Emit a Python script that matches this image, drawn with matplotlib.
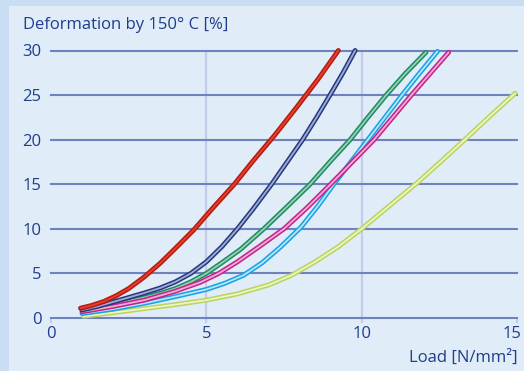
import matplotlib
matplotlib.use("Agg")
import matplotlib.pyplot as plt
from matplotlib.patches import Rectangle
from matplotlib.transforms import ScaledTranslation

# ---- data ----
red_x = [0.95, 1.3, 1.7, 2.1, 2.5, 3.0, 3.5, 4.0, 4.6, 5.2, 5.9, 6.5, 7.2, 7.9, 8.6, 9.25]
red_y = [1.1, 1.4, 1.85, 2.5, 3.3, 4.6, 6.1, 7.8, 9.9, 12.3, 15.0, 17.6, 20.5, 23.6, 26.8, 30]

navy_x = [1, 1.5, 2, 2.5, 3, 3.5, 4, 4.5, 5, 5.5, 6.0, 6.5, 7.1, 7.6, 8.1, 8.55, 8.98, 9.4, 9.79]
navy_y = [0.9, 1.3, 1.8, 2.3, 2.8, 3.35, 4.05, 5.0, 6.3, 8.0, 10, 12.2, 15, 17.5, 20, 22.5, 25, 27.5, 30]

green_x = [1, 2, 3, 3.5, 4, 4.5, 5.0, 5.5, 6.1, 6.85, 7.6, 8.34, 9.0, 9.63, 10.2, 10.79, 11.4, 12.07]
green_y = [0.8, 1.5, 2.3, 2.75, 3.3, 4.05, 5.0, 6.2, 7.7, 10, 12.5, 15, 17.6, 20, 22.5, 25, 27.4, 29.8]

pink_x = [1, 2, 3, 4, 4.8, 5.4, 6.0, 6.7, 7.5, 8.25, 9.0, 9.7, 10.4, 11.0, 11.6, 12.2, 12.8]
pink_y = [0.7, 1.3, 2.0, 3.0, 4.0, 5.0, 6.3, 8.0, 10, 12.4, 15, 17.5, 20, 22.5, 25, 27.4, 29.8]

cyan_x = [1, 2, 3, 4, 5, 5.6, 6.2, 6.8, 7.4, 8.05, 8.6, 9.1, 9.65, 10.2, 10.75, 11.3, 11.85, 12.44]
cyan_y = [0.5, 1.0, 1.65, 2.4, 3.2, 3.9, 4.8, 6.2, 8.0, 10.2, 12.6, 15, 17.5, 20, 22.5, 25, 27.4, 29.9]

yellow_x = [1.05, 2, 3, 4, 5, 6, 7, 7.75, 8.5, 9.25, 10, 10.9, 11.8, 12.6, 13.35, 14.15, 14.94]
yellow_y = [0.2, 0.6, 1.05, 1.5, 2.0, 2.7, 3.7, 4.8, 6.3, 8.0, 10, 12.6, 15.2, 17.7, 20.1, 22.7, 25.2]

x_ticks = [0, 5, 10, 15]
y_ticks = [0, 5, 10, 15, 20, 25, 30]

series = [
    (yellow_x, yellow_y, '#b9d45e', '#eef5c2'),
    (cyan_x, cyan_y, '#16a2e2', '#b4e6f9'),
    (green_x, green_y, '#1f8a62', '#93d2b2'),
    (pink_x, pink_y, '#c2228a', '#f3aad6'),
    (navy_x, navy_y, '#26397a', '#9eaada'),
    (red_x, red_y, '#b51a10', '#e4402c'),
]

TXT = '#1f3d8c'
plt.rcParams['font.family'] = ['Open Sans', 'DejaVu Sans']

fig = plt.figure(figsize=(5.24, 3.71), dpi=100)
fig.patch.set_facecolor('#c9def3')

bg = fig.add_axes([0, 0, 1, 1], zorder=-5)
bg.set_xlim(0, 1)
bg.set_ylim(0, 1)
bg.axis('off')
bg.add_patch(Rectangle((9/524, 0), 1, 1 - 6/371, facecolor='#e0ecf8', edgecolor='none'))

ax = fig.add_axes([51/524, 1 - 318/371, 466/524, (318 - 50.5)/371], zorder=1)
ax.set_facecolor('none')
ax.set_xlim(0, 15)
ax.set_ylim(0, 30)
for s in ax.spines.values():
    s.set_visible(False)

for yv in y_ticks:
    ax.axhline(yv, color='#6f82c0', lw=1.5, zorder=1, clip_on=False)
for xv in [5, 10]:
    ax.plot([xv, xv], [-0.5, 30], color='#c7cbe9', lw=1.6, zorder=0.5, clip_on=False)
for xv in [0, 15]:
    ax.plot([xv, xv], [-0.5, 0], color='#c7cbe9', lw=1.6, zorder=0.5, clip_on=False)

for xs, ys, outer, inner in series:
    ax.plot(xs, ys, color=outer, lw=3.5, solid_capstyle='round',
            solid_joinstyle='round', zorder=3, clip_on=False)
    ax.plot(xs, ys, color=inner, lw=1.3, solid_capstyle='round',
            solid_joinstyle='round', zorder=3, clip_on=False)

ax.set_xticks(x_ticks)
ax.set_yticks(y_ticks)
ax.set_xticklabels([str(v) for v in x_ticks])
ax.set_yticklabels([str(v) for v in y_ticks])
ax.tick_params(axis='both', length=0, colors=TXT, labelsize=12)
ax.tick_params(axis='y', pad=7)
ax.tick_params(axis='x', pad=6)
last = ax.get_xticklabels()[-1]
last.set_transform(last.get_transform() + ScaledTranslation(-5/100, 0, fig.dpi_scale_trans))

fig.text(23/524, 1 - 29/371, 'Deformation by 150° C [%]', color=TXT,
         fontsize=12, ha='left', va='baseline')
fig.text(518/524, 1 - 358/371, 'Load [N/mm²]', color=TXT,
         fontsize=12, ha='right', va='center')

fig.savefig('out.png', dpi=100, facecolor=fig.get_facecolor())
